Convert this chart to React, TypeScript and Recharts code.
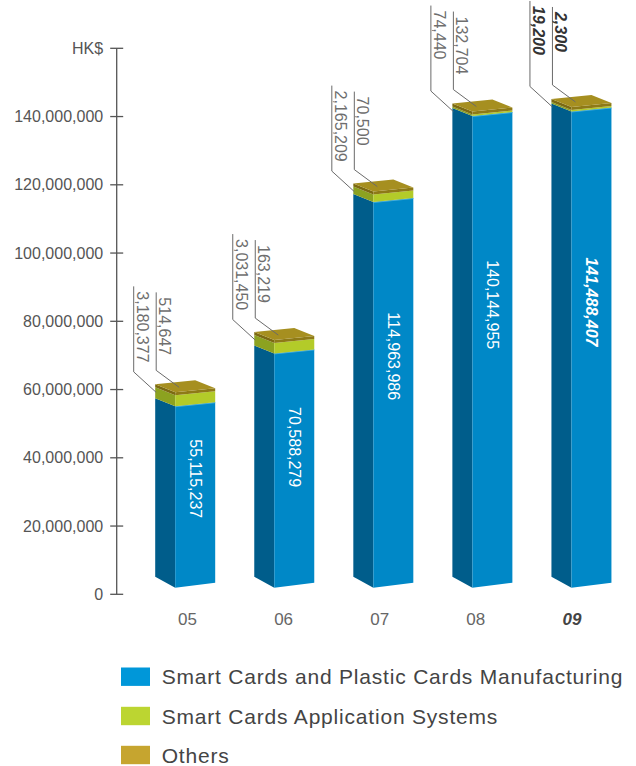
import React from 'react';
import { BarChart, Bar, XAxis, YAxis, Legend } from 'recharts';

const years = ['05', '06', '07', '08', '09'];
const manufacturing = [55115237, 70588279, 114963986, 140144955, 141488407];
const applications = [3180377, 3031450, 2165209, 74440, 19200];
const others = [514647, 163219, 70500, 132704, 2300];
const yTicks = [0, 20000000, 40000000, 60000000, 80000000, 100000000, 120000000, 140000000, 160000000];
const unitLabel = 'HK$';
const seriesNames = [
  'Smart Cards and Plastic Cards Manufacturing',
  'Smart Cards Application Systems',
  'Others',
];

const data = years.map((year, i) => ({
  year,
  manufacturing: manufacturing[i],
  applications: applications[i],
  others: others[i],
}));

const LAST = years.length - 1;
const FONT = '"Liberation Sans", Arial, Helvetica, sans-serif';
const fmt = (v: number) => v.toLocaleString('en-US');
const pts = (a: number[][]) => a.map((p) => p.join(',')).join(' ');

const SIDE = 20;
const DEPTH_DY = 8;
const SLOPE = 4;

const COLORS = {
  blueFront: '#0088C7',
  blueSide: '#005D8B',
  blueEdge: '#45AEDF',
  greenFront: '#B3CB29',
  greenSide: '#8CA220',
  goldTop: '#A68F20',
  goldFront: '#8E7A17',
  goldSide: '#7C6A12',
  leader: '#6a6a6a',
  callout: '#6e6e6e',
  axis: '#555555',
};
const legendColors = ['#0097D9', '#BCD531', '#C6A52F'];

function ManufShape(props: any) {
  const { x, y, width, height, index } = props;
  const xb = x;
  const xf = x + SIDE;
  const xr = x + width;
  const top = y;
  const bot = y + height - 6.6;
  const hl = index === LAST;
  const cx = xf + (xr - xf) / 2;
  const cy = top + 0.4 * (bot - top);
  return (
    <g>
      <polygon points={pts([[xb, top - DEPTH_DY], [xf, top], [xf, bot], [xb, bot - 11]])} fill={COLORS.blueSide} />
      <polygon points={pts([[xf, top], [xr, top - SLOPE], [xr, bot - 5], [xf, bot]])} fill={COLORS.blueFront} />
      <line x1={xf} y1={top + 0.5} x2={xr} y2={top - SLOPE + 0.5} stroke={COLORS.blueEdge} strokeWidth={1} />
      <text
        x={cx}
        y={cy}
        transform={`rotate(90 ${cx} ${cy})`}
        textAnchor="middle"
        dominantBaseline="central"
        fill="#ffffff"
        fontFamily={FONT}
        fontSize={16}
        fontWeight={hl ? 'bold' : 'normal'}
        fontStyle={hl ? 'italic' : 'normal'}
      >
        {fmt(manufacturing[index])}
      </text>
    </g>
  );
}

function AppsShape(props: any) {
  const { x, y, width, height } = props;
  const xb = x;
  const xf = x + SIDE;
  const xr = x + width;
  const gBot = y + height;
  const gTop = Math.min(y, gBot - 1.5);
  return (
    <g>
      <polygon points={pts([[xb, gTop - DEPTH_DY], [xf, gTop], [xf, gBot], [xb, gBot - DEPTH_DY]])} fill={COLORS.greenSide} />
      <polygon points={pts([[xf, gTop], [xr, gTop - SLOPE], [xr, gBot - SLOPE], [xf, gBot]])} fill={COLORS.greenFront} />
    </g>
  );
}

function OthersShape(props: any) {
  const { x, y, width, height, index } = props;
  const xb = x;
  const xf = x + SIDE;
  const xr = x + width;
  const k = others[index] > 0 ? height / others[index] : 0;
  const appsPx = applications[index] * k;
  const blueTop = y + height + appsPx;
  const lidBot = blueTop - Math.max(appsPx, 1.5);
  const lidTop = lidBot - 3;
  const L = lidTop;
  const hl = index === LAST;
  const x1 = xb - 21.5;
  const x2 = xb + 1;
  const t1x = x1 + 8.5;
  const t1y = L - 101;
  const t2x = x2 + 8;
  const t2y = L - 95;
  const textProps = {
    fontFamily: FONT,
    fontSize: 16,
    fill: hl ? '#333333' : COLORS.callout,
    fontWeight: hl ? 'bold' : 'normal',
    fontStyle: hl ? 'italic' : 'normal',
    textAnchor: 'start' as const,
    dominantBaseline: 'central' as const,
  };
  return (
    <g>
      <polygon points={pts([[xb, lidTop - DEPTH_DY], [xf, lidTop], [xf, lidBot], [xb, lidBot - DEPTH_DY]])} fill={COLORS.goldSide} />
      <polygon points={pts([[xf, lidTop], [xr, lidTop - SLOPE], [xr, lidBot - SLOPE], [xf, lidBot]])} fill={COLORS.goldFront} />
      <polygon
        points={pts([[xb, lidTop - DEPTH_DY], [xf, lidTop], [xr, lidTop - SLOPE], [xr - SIDE, lidTop - SLOPE - DEPTH_DY]])}
        fill={COLORS.goldTop}
      />
      <polyline points={pts([[x1, L - 106], [x1, L - 20.5], [xb + 1, L]])} fill="none" stroke={COLORS.leader} strokeWidth={1} />
      <polyline points={pts([[x2, L - 100], [x2, L - 22], [xb + 24, L - 5]])} fill="none" stroke={COLORS.leader} strokeWidth={1} />
      <text x={t1x} y={t1y} transform={`rotate(90 ${t1x} ${t1y})`} {...textProps}>
        {fmt(applications[index])}
      </text>
      <text x={t2x} y={t2y} transform={`rotate(90 ${t2x} ${t2y})`} {...textProps}>
        {fmt(others[index])}
      </text>
    </g>
  );
}

function YTick(props: any) {
  const { x, y, payload } = props;
  const label = payload.value === yTicks[yTicks.length - 1] ? unitLabel : fmt(payload.value);
  return (
    <g>
      <line x1={x - 6.5} x2={x + 6.5} y1={y} y2={y} stroke={COLORS.axis} strokeWidth={1.3} />
      <text x={x - 13.5} y={y} textAnchor="end" dominantBaseline="central" fontFamily={FONT} fontSize={16} fill="#555555">
        {label}
      </text>
    </g>
  );
}

function XTick(props: any) {
  const { x, y, payload } = props;
  const hl = payload.value === years[LAST];
  return (
    <text
      x={x}
      y={y}
      dy="0.71em"
      textAnchor="middle"
      fontFamily={FONT}
      fontSize={17}
      fill={hl ? '#444444' : '#666666'}
      fontWeight={hl ? 'bold' : 'normal'}
      fontStyle={hl ? 'italic' : 'normal'}
    >
      {payload.value}
    </text>
  );
}

function LegendContent() {
  const rows = [26.7, 66, 105];
  return (
    <svg width={636} height={116} style={{ display: 'block' }}>
      {seriesNames.map((name, i) => (
        <g key={name}>
          <rect x={121} y={rows[i] - 9.2} width={29} height={18.4} fill={legendColors[i]} />
          <text
            x={161.7}
            y={rows[i]}
            dominantBaseline="central"
            fontFamily={FONT}
            fontSize={21}
            letterSpacing={0.8}
            fill="#444444"
          >
            {name}
          </text>
        </g>
      ))}
    </svg>
  );
}

export default function App() {
  return (
    <div>
      <style>{'body{margin:0;}'}</style>
      <BarChart
        width={636}
        height={766}
        data={data}
        margin={{ top: 48.3, right: 0, bottom: 131.7, left: 0 }}
      >
        <XAxis
          xAxisId="labels"
          dataKey="year"
          height={40}
          axisLine={false}
          tickLine={false}
          tickSize={0}
          tickMargin={19}
          tick={<XTick />}
          interval={0}
          padding={{ left: 22.75, right: 16.05 }}
        />
        <XAxis xAxisId="bars" dataKey="year" hide height={0} padding={{ left: 18.5, right: 5.5 }} />
        <YAxis
          width={116.7}
          domain={[0, 160000000]}
          ticks={yTicks}
          interval={0}
          tick={<YTick />}
          tickLine={false}
          tickSize={0}
          tickMargin={0}
          axisLine={{ stroke: COLORS.axis, strokeWidth: 1.3 }}
        />
        <Bar xAxisId="bars" dataKey="manufacturing" name={seriesNames[0]} stackId="s" barSize={60} fill={legendColors[0]} shape={<ManufShape />} isAnimationActive={false} />
        <Bar xAxisId="bars" dataKey="applications" name={seriesNames[1]} stackId="s" barSize={60} fill={legendColors[1]} shape={<AppsShape />} isAnimationActive={false} />
        <Bar xAxisId="bars" dataKey="others" name={seriesNames[2]} stackId="s" barSize={60} fill={legendColors[2]} shape={<OthersShape />} isAnimationActive={false} />
        <Legend
          layout="horizontal"
          verticalAlign="middle"
          align="center"
          wrapperStyle={{ top: 650, left: 0, width: 636, height: 116 }}
          content={<LegendContent />}
        />
      </BarChart>
    </div>
  );
}
